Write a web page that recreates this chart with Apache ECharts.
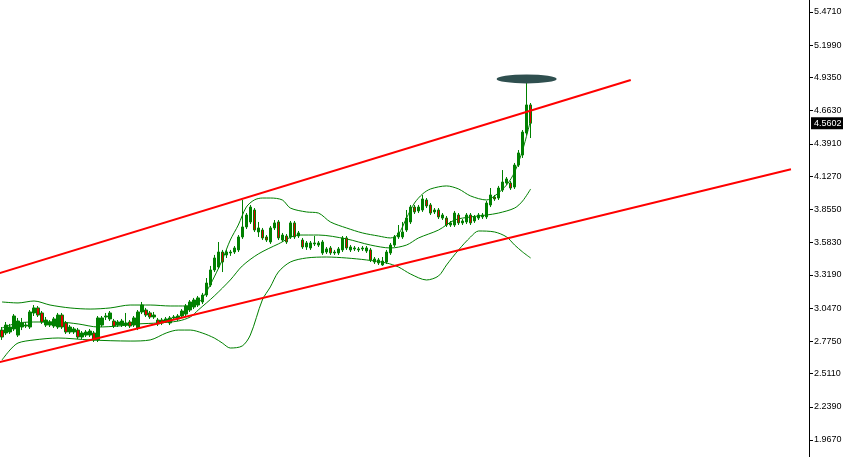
<!DOCTYPE html>
<html><head><meta charset="utf-8">
<script src="https://cdn.jsdelivr.net/npm/echarts@6/dist/echarts.min.js"></script>
<style>html,body{margin:0;padding:0;background:#fff}#c{width:843px;height:457px}</style>
</head><body><div id="c"></div>
<script>
// number of bar slots on the time axis (candles + empty space to the right)
const slotCount = 202;
const categories = Array.from({length: slotCount}, (_, i) => String(i));

// [open, close, low, high]
const candles = [
[2.867,2.810,2.786,2.892],[2.843,2.908,2.826,2.933],[2.851,2.892,2.835,2.917],[2.876,2.982,2.859,2.998],
[2.826,2.941,2.810,2.966],[2.892,2.925,2.867,2.966],[2.900,2.908,2.884,2.933],[2.892,3.015,2.876,3.031],
[3.007,3.048,2.982,3.072],[3.048,2.990,2.974,3.064],[3.007,2.933,2.917,3.023],[2.908,2.949,2.892,2.974],
[2.908,2.933,2.892,2.949],[2.900,2.958,2.884,2.974],[2.892,2.990,2.876,3.007],[2.990,2.892,2.876,3.007],
[2.925,2.851,2.835,2.941],[2.851,2.892,2.835,2.908],[2.851,2.876,2.835,2.892],[2.867,2.810,2.794,2.884],
[2.810,2.843,2.794,2.859],[2.826,2.851,2.810,2.867],[2.826,2.859,2.810,2.876],[2.843,2.786,2.769,2.859],
[2.786,2.966,2.769,2.982],[2.908,2.966,2.892,2.982],[2.974,2.982,2.949,3.007],[2.958,3.007,2.941,3.023],
[2.941,2.900,2.884,2.958],[2.908,2.933,2.892,2.949],[2.908,2.941,2.892,2.958],[2.908,2.925,2.892,3.007],
[2.933,2.900,2.884,2.949],[2.908,2.966,2.892,2.982],[2.884,3.015,2.867,3.031],[3.015,3.072,2.998,3.097],
[3.031,2.990,2.974,3.048],[3.007,2.974,2.958,3.023],[2.974,2.990,2.958,3.015],[2.949,2.917,2.900,2.966],
[2.949,2.925,2.908,2.966],[2.941,2.958,2.925,2.974],[2.925,2.966,2.908,2.982],[2.966,2.974,2.949,2.990],
[2.958,2.982,2.941,2.998],[2.982,3.023,2.966,3.039],[2.998,3.064,2.982,3.080],[3.031,3.097,3.015,3.113],
[3.056,3.113,3.039,3.130],[3.072,3.130,3.056,3.146],[3.097,3.154,3.080,3.171],[3.154,3.252,3.138,3.293],
[3.236,3.359,3.220,3.392],[3.359,3.457,3.342,3.482],[3.383,3.506,3.367,3.588],[3.506,3.424,3.342,3.523],
[3.482,3.506,3.457,3.523],[3.498,3.506,3.474,3.523],[3.506,3.539,3.490,3.555],[3.523,3.629,3.506,3.645],
[3.629,3.711,3.613,3.932],[3.711,3.809,3.694,3.825],[3.752,3.874,3.735,3.891],[3.850,3.686,3.670,3.866],
[3.670,3.703,3.629,3.752],[3.686,3.621,3.604,3.703],[3.629,3.604,3.588,3.645],[3.588,3.703,3.572,3.719],
[3.703,3.744,3.686,3.768],[3.752,3.621,3.604,3.768],[3.604,3.645,3.588,3.662],[3.637,3.588,3.572,3.653],
[3.629,3.744,3.613,3.760],[3.744,3.629,3.613,3.760],[3.637,3.662,3.621,3.678],[3.604,3.547,3.531,3.621],
[3.547,3.580,3.523,3.596],[3.539,3.580,3.523,3.596],[3.572,3.580,3.555,3.637],[3.563,3.580,3.547,3.596],
[3.498,3.588,3.482,3.604],[3.506,3.531,3.490,3.547],[3.539,3.498,3.482,3.555],[3.498,3.506,3.482,3.523],
[3.498,3.531,3.482,3.547],[3.523,3.621,3.506,3.637],[3.621,3.539,3.523,3.637],[3.523,3.547,3.506,3.563],
[3.531,3.539,3.514,3.555],[3.523,3.531,3.506,3.547],[3.531,3.539,3.514,3.555],[3.514,3.539,3.498,3.555],
[3.523,3.441,3.424,3.539],[3.424,3.449,3.408,3.465],[3.416,3.441,3.400,3.457],[3.400,3.432,3.392,3.465],
[3.424,3.506,3.408,3.523],[3.498,3.563,3.482,3.580],[3.563,3.629,3.547,3.645],[3.629,3.662,3.613,3.727],
[3.629,3.670,3.613,3.752],[3.686,3.784,3.670,3.850],[3.752,3.874,3.735,3.891],[3.874,3.834,3.817,3.891],
[3.842,3.874,3.825,3.891],[3.850,3.940,3.834,3.973],[3.932,3.883,3.866,3.948],[3.891,3.825,3.809,3.907],
[3.834,3.850,3.817,3.866],[3.850,3.793,3.776,3.866],[3.784,3.809,3.768,3.825],[3.784,3.727,3.711,3.801],
[3.727,3.744,3.711,3.760],[3.727,3.825,3.711,3.842],[3.809,3.744,3.727,3.825],[3.744,3.760,3.727,3.776],
[3.752,3.809,3.735,3.825],[3.809,3.744,3.727,3.825],[3.760,3.793,3.744,3.809],[3.784,3.809,3.768,3.825],
[3.793,3.809,3.776,3.825],[3.793,3.907,3.776,3.924],[3.891,3.973,3.874,4.030],[3.956,3.940,3.924,3.973],
[3.948,4.030,3.932,4.047],[4.014,4.079,3.997,4.177],[4.071,4.104,4.055,4.120],[4.071,4.030,4.014,4.087],
[4.038,4.218,4.022,4.235],[4.218,4.317,4.202,4.341],[4.300,4.488,4.276,4.505],[4.480,4.710,4.464,4.939],
[4.710,4.5602,4.439,4.726]
];

// Bollinger bands: [bar index, price]
const upperBand = [
[0,3.097],[4,3.089],[8,3.105],[12,3.072],[17,3.048],[22,3.039],[27,3.048],[32,3.072],[37,3.072],[42,3.064],
[46,3.064],[49,3.089],[51,3.179],[53,3.302],[55,3.441],[57,3.604],[59,3.727],[61,3.874],[63,3.932],[65,3.948],
[67,3.948],[70,3.932],[72,3.866],[76,3.834],[79,3.825],[82,3.752],[86,3.703],[90,3.662],[94,3.637],[97,3.621],
[99,3.653],[101,3.784],[103,3.907],[105,3.981],[107,4.022],[111,4.047],[114,4.022],[117,3.965],[121,3.932],
[123,3.965],[126,4.055],[128,4.161],[130,4.341],[132,4.587]
];
const middleBand = [
[0,2.884],[4,2.925],[9,2.933],[14,2.933],[19,2.917],[24,2.892],[29,2.900],[34,2.917],[39,2.925],[44,2.941],
[47,2.974],[49,3.031],[53,3.146],[57,3.277],[60,3.392],[64,3.490],[69,3.572],[74,3.645],[79,3.645],[86,3.613],
[92,3.563],[97,3.539],[101,3.563],[104,3.621],[109,3.686],[113,3.768],[117,3.793],[121,3.809],[124,3.825],
[128,3.866],[130,3.924],[132,4.022]
];
const lowerBand = [
[0,2.622],[2,2.704],[4,2.761],[8,2.786],[14,2.802],[22,2.786],[32,2.777],[37,2.786],[41,2.843],[44,2.867],
[47,2.867],[50,2.843],[53,2.802],[55,2.761],[57,2.720],[60,2.737],[62,2.826],[65,3.113],[67,3.220],[69,3.342],
[72,3.424],[76,3.457],[81,3.465],[86,3.457],[91,3.441],[96,3.416],[99,3.383],[102,3.326],[106,3.277],[109,3.310],
[111,3.400],[114,3.523],[117,3.629],[119,3.678],[123,3.670],[126,3.629],[128,3.563],[130,3.506],[132,3.457]
];

// red channel lines: [bar index, price] at both ends
const upperChannel = [[-1, 3.329], [157, 4.914]];
const lowerChannel = [[-1, 2.601], [197, 4.183]];

// dark marker above the last high
const marker = [[131, 4.923]];

const tickValues = [1.967, 2.239, 2.511, 2.775, 3.047, 3.319, 3.583, 3.855, 4.127, 4.391, 4.663, 4.935, 5.199, 5.471];
const lastPrice = 4.5602;
const yMin = 1.8277, yMax = 5.5692;

const chart = echarts.init(document.getElementById('c'), null, {renderer: 'canvas'});
const font = 'Liberation Sans';
const bandLine = (name, data) => ({
  name, type: 'line', data, showSymbol: false, symbol: 'none', smooth: 0.3,
  lineStyle: {color: '#008000', width: 1}, z: 1, silent: true
});
chart.setOption({
  animation: false,
  backgroundColor: '#ffffff',
  grid: {left: 0, right: 34, top: 0, bottom: 0, containLabel: false, outerBoundsMode: 'none'},
  xAxis: {type: 'category', data: categories, boundaryGap: true, show: false},
  yAxis: {
    type: 'value', position: 'right', min: yMin, max: yMax,
    splitLine: {show: false},
    axisLine: {show: true, lineStyle: {color: '#000', width: 1}},
    axisTick: {show: true, length: 4, lineStyle: {color: '#000'}, customValues: tickValues},
    axisLabel: {customValues: tickValues, formatter: v => v.toFixed(4), color: '#000',
      fontFamily: font, fontSize: 9, margin: 5}
  },
  series: [
    bandLine('upper', upperBand),
    bandLine('middle', middleBand),
    bandLine('lower', lowerBand),
    {
      name: 'price', type: 'candlestick', data: candles, barWidth: 3, z: 3,
      itemStyle: {color: '#008000', color0: '#E00000', borderColor: '#008000', borderColor0: '#008000', borderWidth: 1},
      markLine: {
        silent: true, symbol: ['none', 'none'],
        lineStyle: {color: 'rgba(0,0,0,0)', width: 0},
        label: {show: true, position: 'end', distance: 2, formatter: () => lastPrice.toFixed(4),
          color: '#fff', backgroundColor: '#000', padding: [2, 3, 1, 3], fontFamily: font, fontSize: 9},
        data: [{yAxis: lastPrice}]
      }
    },
    {name: 'ch1', type: 'line', data: upperChannel, symbol: 'none', lineStyle: {color: '#ff0000', width: 2}, z: 4, silent: true},
    {name: 'ch2', type: 'line', data: lowerChannel, symbol: 'none', lineStyle: {color: '#ff0000', width: 2}, z: 4, silent: true},
    {name: 'mark', type: 'scatter', data: marker, symbol: 'circle', symbolSize: [60, 9],
      itemStyle: {color: '#2F4F4F', opacity: 1}, z: 5, silent: true}
  ]
});
</script></body></html>
